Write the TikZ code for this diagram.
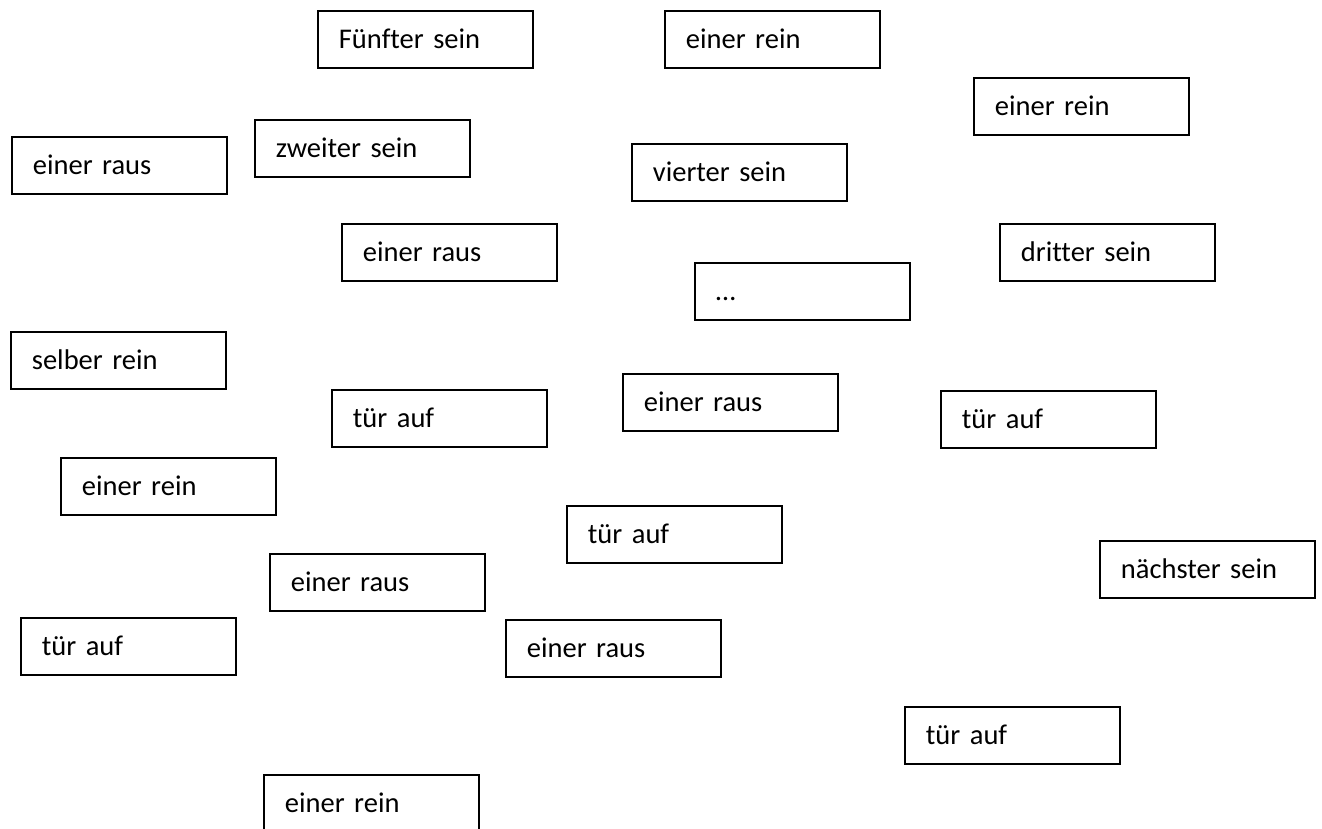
\documentclass[tikz,border=0pt]{standalone}
\usepackage{fontspec}
\setmainfont{Carlito}[Ligatures=NoCommon]
\begin{document}
\begin{tikzpicture}[x=1pt,y=-1pt,
  card/.style={draw=black, line width=1.8pt, rectangle, anchor=north west,
    minimum width=215pt, minimum height=57pt, inner xsep=21pt, inner ysep=0pt,
    text width=173pt, align=left, text height=20pt, text depth=1pt,
    font=\fontsize{28.5pt}{34pt}\selectfont}]
\useasboundingbox (0,0) rectangle (1322,829);
\fill[white] (0,0) rectangle (1322,829);
\node[card] (n1) at (317,10) {Fünfter sein};
\node[card] (n2) at (664,10) {einer rein};
\node[card] (n3) at (973,77) {einer rein};
\node[card] (n4) at (11,136) {einer raus};
\node[card] (n5) at (254,119) {zweiter sein};
\node[card] (n6) at (631,143) {vierter sein};
\node[card] (n7) at (341,223) {einer raus};
\node[card] (n8) at (999,223) {dritter sein};
\node[card] (n9) at (694,262) {…};
\node[card] (n10) at (10,331) {selber rein};
\node[card] (n11) at (331,389) {tür auf};
\node[card] (n12) at (622,373) {einer raus};
\node[card] (n13) at (940,390) {tür auf};
\node[card] (n14) at (60,457) {einer rein};
\node[card] (n15) at (566,505) {tür auf};
\node[card] (n16) at (1099,540) {nächster sein};
\node[card] (n17) at (269,553) {einer raus};
\node[card] (n18) at (20,617) {tür auf};
\node[card] (n19) at (505,619) {einer raus};
\node[card] (n20) at (904,706) {tür auf};
\node[card] (n21) at (263,774) {einer rein};
\end{tikzpicture}
\end{document}
